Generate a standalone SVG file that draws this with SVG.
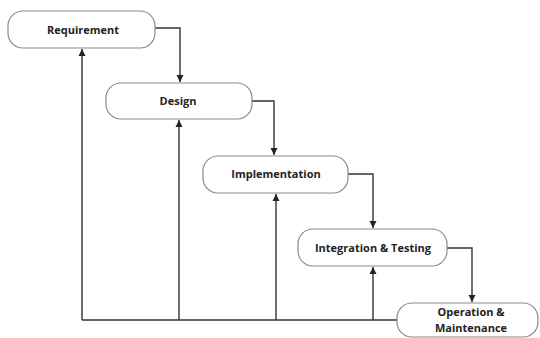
<svg xmlns="http://www.w3.org/2000/svg" width="540" height="338" viewBox="0 0 540 338">
<defs>
<marker id="ah" markerWidth="8" markerHeight="8" refX="7" refY="4" orient="auto" markerUnits="userSpaceOnUse">
<path d="M0,0.5 L7,4 L0,7.5 Z" fill="#222"/>
</marker>
<style>
.box{fill:#fff;stroke:#8a8a8a;stroke-width:1.2}
.lbl{font-family:"Open Sans","Liberation Sans",sans-serif;font-weight:bold;font-size:11px;fill:#222;text-anchor:middle}
.c{fill:none;stroke:#333;stroke-width:1.4}
</style>
</defs>
<rect width="540" height="338" fill="#fff"/>
<g id="connectors">
<polyline class="c" points="155,28 180,28 180,82" marker-end="url(#ah)"/>
<polyline class="c" points="252,101 274,101 274,155" marker-end="url(#ah)"/>
<polyline class="c" points="348,174 373,174 373,228" marker-end="url(#ah)"/>
<polyline class="c" points="447,248 472,248 472,302" marker-end="url(#ah)"/>
<polyline class="c" points="397,320 82,320"/>
<line class="c" x1="82" y1="320" x2="82" y2="49" marker-end="url(#ah)"/>
<line class="c" x1="179" y1="320" x2="179" y2="120" marker-end="url(#ah)"/>
<line class="c" x1="276" y1="320" x2="276" y2="194" marker-end="url(#ah)"/>
<line class="c" x1="373" y1="320" x2="373" y2="267" marker-end="url(#ah)"/>
</g>
<g id="requirement">
<rect class="box" x="8" y="11" width="147" height="37" rx="15"/>
<text class="lbl" x="83" y="34">Requirement</text>
</g>
<g id="design">
<rect class="box" x="106" y="83" width="146" height="36" rx="15"/>
<text class="lbl" x="178" y="105">Design</text>
</g>
<g id="implementation">
<rect class="box" x="203" y="156" width="145" height="37" rx="15"/>
<text class="lbl" x="276" y="178">Implementation</text>
</g>
<g id="integration">
<rect class="box" x="298" y="229" width="149" height="37" rx="15"/>
<text class="lbl" x="373" y="252">Integration &amp; Testing</text>
</g>
<g id="operation">
<rect class="box" x="397" y="303" width="141" height="34" rx="15"/>
<text class="lbl" x="471" y="316">Operation &amp;</text>
<text class="lbl" x="471" y="332">Maintenance</text>
</g>
</svg>
